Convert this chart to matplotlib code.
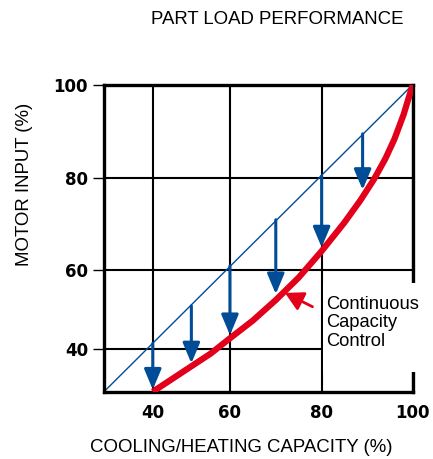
import numpy as np
import matplotlib.pyplot as plt
from matplotlib.patches import Rectangle

# values
capacity = [40, 45, 50, 55, 60, 65, 70, 75, 80, 85, 88.5, 91.5, 94, 96, 98, 100]
motor_input = [30, 33, 36, 39, 42.8, 47.3, 52.5, 58.2, 64.2, 70.4, 75.2, 79.8, 84.2, 88.4, 93.6, 100]

arrow_x = [40, 50, 60, 70, 80, 89]
arrow_from = [41.5, 51, 61, 71, 80.5, 89.5]
arrow_to = [30.5, 36.7, 43.6, 54, 65, 77.5]

ticks = [40, 60, 80, 100]
label_text = "Continuous\nCapacity\nControl"

BLUE = '#004C97'
RED = '#E2001A'

# the sheet is hand drawn, the grid spacing is not even -> piecewise scale
grid_vals = [30, 40, 60, 80, 100]
x_frac = [0.0, 0.158, 0.408, 0.705, 1.0]
y_frac = [0.0, 0.138, 0.395, 0.695, 1.0]


def piecewise(src, dst):
    src = np.asarray(src, float)
    dst = np.asarray(dst, float)
    s0 = (dst[1] - dst[0]) / (src[1] - src[0])
    s1 = (dst[-1] - dst[-2]) / (src[-1] - src[-2])

    def f(v):
        v = np.asarray(v, float)
        out = np.interp(v, src, dst)
        out = np.where(v < src[0], dst[0] + (v - src[0]) * s0, out)
        out = np.where(v > src[-1], dst[-1] + (v - src[-1]) * s1, out)
        return out
    return f


fig = plt.figure(figsize=(4.33, 4.59), dpi=100)
ax = fig.add_axes([0.2402, 0.1466, 0.7129, 0.6689])

ax.set_xscale('function', functions=(piecewise(grid_vals, x_frac), piecewise(x_frac, grid_vals)))
ax.set_yscale('function', functions=(piecewise(grid_vals, y_frac), piecewise(y_frac, grid_vals)))
ax.set_xlim(30, 100)
ax.set_ylim(30, 100)

ax.set_xticks(ticks)
ax.set_yticks(ticks)
ax.minorticks_off()
ax.set_xticklabels([str(t) for t in ticks], fontsize=12, fontweight='bold', family='DejaVu Sans')
ax.set_yticklabels([str(t) for t in ticks], fontsize=12, fontweight='bold', family='DejaVu Sans')
ax.tick_params(axis='x', length=0, pad=9)
ax.tick_params(axis='y', length=8, width=1, pad=3.5)

ax.grid(True, color='black', lw=1.5)
ax.set_axisbelow(True)
for sp in ax.spines.values():
    sp.set_linewidth(2.4)

# straight 1:1 line
ax.plot([30, 100], [30, 100], color=BLUE, lw=1.0, zorder=2)

# savings arrows
for x, y0, y1 in zip(arrow_x, arrow_from, arrow_to):
    ax.annotate('', xy=(x, y1), xytext=(x, y0),
                arrowprops=dict(arrowstyle='-|>,head_length=0.62,head_width=0.26',
                                mutation_scale=20, lw=2.2, color=BLUE,
                                shrinkA=0, shrinkB=0), zorder=3)

# continuous capacity control curve
ax.plot(capacity, motor_input, color=RED, lw=4.5, zorder=4,
        solid_capstyle='butt', solid_joinstyle='round')

ax.annotate('', xy=(72, 54.3), xytext=(78, 50.8),
            arrowprops=dict(arrowstyle='-|>,head_length=0.55,head_width=0.3',
                            mutation_scale=20, lw=2.0, color=RED,
                            shrinkA=0, shrinkB=0), zorder=5)

# white box behind the note (hides the grid and right frame)
ax.add_patch(Rectangle((0.709, 0.064), 0.36, 0.29, transform=ax.transAxes,
                       facecolor='white', edgecolor='none', clip_on=False, zorder=6))
ax.text(0.719, 0.224, label_text, transform=ax.transAxes, ha='left', va='center',
        fontsize=13.2, family='Liberation Sans', linespacing=1.1, zorder=7, clip_on=False)

fig.text(0.641, 1 - 19 / 459, 'PART LOAD PERFORMANCE', ha='center', va='center',
         fontsize=13.4, family='Liberation Sans')
fig.text(0.558, 1 - 447 / 459, 'COOLING/HEATING CAPACITY (%)', ha='center', va='center',
         fontsize=13.4, family='Liberation Sans')
fig.text(24.5 / 433, 1 - 184 / 459, 'MOTOR INPUT (%)', ha='center', va='center',
         rotation=90, fontsize=13.4, family='Liberation Sans')

plt.savefig('out.png', dpi=100)
